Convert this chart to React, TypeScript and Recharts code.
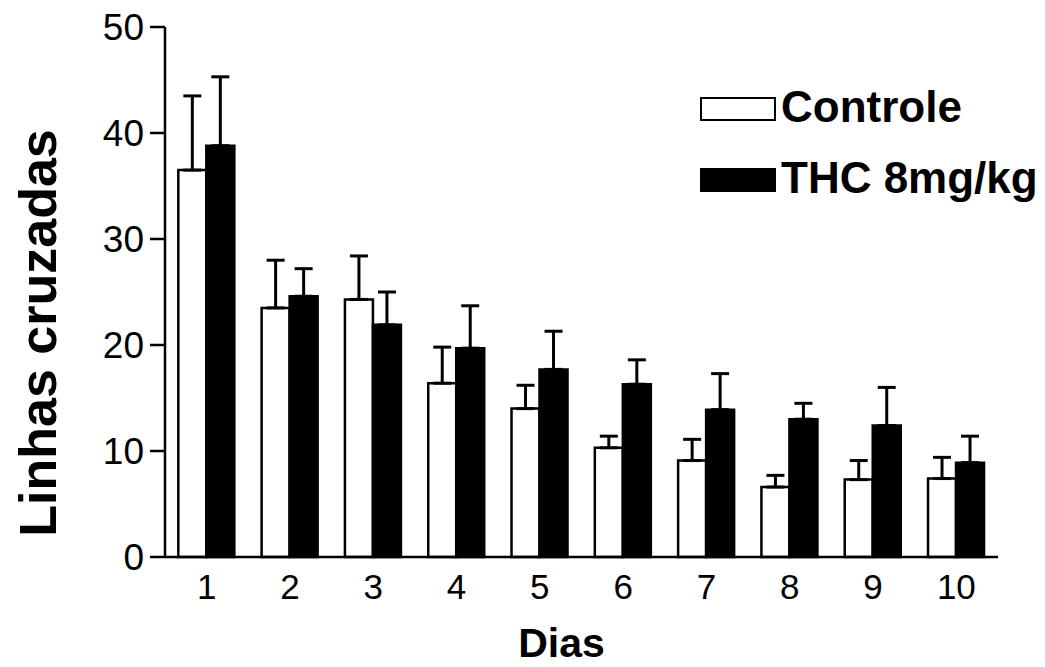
import { Bar, BarChart, ErrorBar, Label, Legend, XAxis, YAxis } from "recharts"

const dias = ["1", "2", "3", "4", "5", "6", "7", "8", "9", "10"]
const controle = [36.5, 23.5, 24.3, 16.4, 14.0, 10.3, 9.1, 6.6, 7.3, 7.4]
const controleErro = [7.0, 4.5, 4.1, 3.4, 2.2, 1.1, 2.0, 1.1, 1.8, 2.0]
const thc = [38.8, 24.6, 21.9, 19.7, 17.7, 16.3, 13.9, 13.0, 12.4, 8.9]
const thcErro = [6.5, 2.6, 3.1, 4.0, 3.6, 2.3, 3.4, 1.5, 3.6, 2.5]
const yTicks = [0, 10, 20, 30, 40, 50]

const data = dias.map((dia, i) => ({
  dia,
  controle: controle[i],
  controleErro: [0, controleErro[i]],
  thc: thc[i],
  thcErro: [0, thcErro[i]],
}))

const font = "'Liberation Sans', Arial, Helvetica, sans-serif"

function LegendBox({ payload }: any) {
  return (
    <div style={{ fontFamily: font }}>
      {(payload || []).map((entry: any) => (
        <div key={entry.value} style={{ display: "flex", alignItems: "flex-end", height: 71 }}>
          <div
            style={{
              width: 72,
              height: 20,
              background: entry.color,
              border: "2px solid #000",
              marginRight: 5,
              marginBottom: 8,
            }}
          />
          <span style={{ fontSize: 44, fontWeight: "bold", lineHeight: "44px", color: "#000" }}>{entry.value}</span>
        </div>
      ))}
    </div>
  )
}

export default function App() {
  return (
    <div style={{ position: "absolute", left: 0, top: 0, background: "#fff" }}>
      <BarChart
        width={1045}
        height={667}
        data={data}
        margin={{ top: 27, right: 47, left: 0, bottom: 0 }}
        barCategoryGap="16%"
        barGap={0}
        style={{ fontFamily: font }}
      >
        <XAxis
          dataKey="dia"
          height={110}
          tickLine={false}
          tickSize={6}
          tickMargin={11}
          axisLine={{ stroke: "#000", strokeWidth: 2.5 }}
          tick={{ fill: "#000", fontSize: 35 }}
        >
          <Label
            content={({ viewBox }: any) => (
              <text
                x={viewBox.x + viewBox.width / 2 - 20}
                y={657}
                textAnchor="middle"
                fontSize={41}
                fontWeight="bold"
                fill="#000"
              >
                Dias
              </text>
            )}
          />
        </XAxis>
        <YAxis
          width={165}
          domain={[0, 50]}
          ticks={yTicks}
          interval={0}
          tickSize={15}
          tickMargin={6}
          axisLine={{ stroke: "#000", strokeWidth: 2.5 }}
          tickLine={{ stroke: "#000", strokeWidth: 2.5 }}
          tick={{ fill: "#000", fontSize: 37 }}
        >
          <Label
            content={() => (
              <text
                x={0}
                y={0}
                transform="translate(56, 333) rotate(-90)"
                textAnchor="middle"
                fontSize={52}
                fontWeight="bold"
                fill="#000"
              >
                Linhas cruzadas
              </text>
            )}
          />
        </YAxis>
        <Legend
          layout="vertical"
          align="center"
          verticalAlign="middle"
          content={<LegendBox />}
          wrapperStyle={{ left: 700, top: 58, width: 345 }}
        />
        <Bar dataKey="controle" name="Controle" fill="#fff" stroke="#000" strokeWidth={2.5} isAnimationActive={false}>
          <ErrorBar dataKey="controleErro" direction="y" width={9} stroke="#000" strokeWidth={3} />
        </Bar>
        <Bar dataKey="thc" name="THC 8mg/kg" fill="#000" stroke="#000" strokeWidth={2.5} isAnimationActive={false}>
          <ErrorBar dataKey="thcErro" direction="y" width={9} stroke="#000" strokeWidth={3} />
        </Bar>
      </BarChart>
    </div>
  )
}
